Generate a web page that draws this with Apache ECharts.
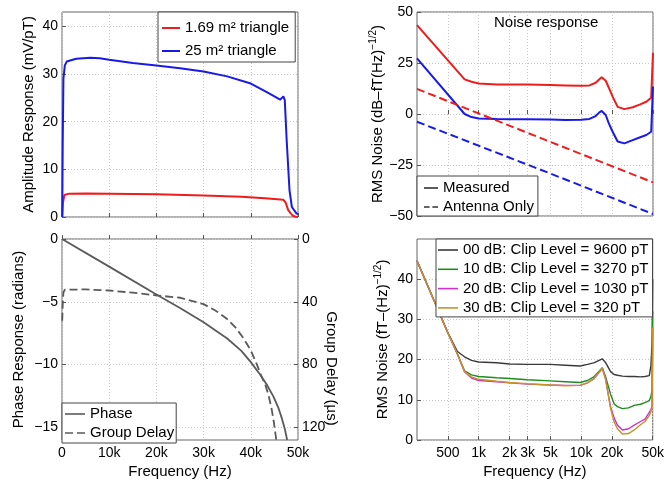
<!DOCTYPE html>
<html><head><meta charset="utf-8">
<script src="https://cdn.jsdelivr.net/npm/echarts@6/dist/echarts.min.js"></script>
<style>html,body{margin:0;padding:0;background:#fff}#c{width:667px;height:480px}</style>
</head><body><div id="c"></div>
<script>
// ---------- data ----------
// Top-left: amplitude response (mV/pT) vs frequency (Hz)
const ampRedFreq = [50, 200, 500, 1500, 5000, 10000, 20000, 30000, 38000, 43000, 46900, 47400, 47900, 48500, 49000, 49600, 50000];
const ampRed     = [0, 3.0, 4.6, 4.9, 4.95, 4.9, 4.75, 4.5, 4.25, 3.95, 3.6, 3.0, 1.5, 0.7, 0.2, 0.05, 0];
const ampBlueFreq = [50, 150, 300, 600, 1000, 3000, 6000, 8000, 10000, 15000, 20000, 25000, 30000, 35000, 40000, 43400, 45000, 46200, 46900, 47200, 47600, 48200, 48700, 49700, 50000];
const ampBlue     = [0, 15, 29, 31.8, 32.6, 33.2, 33.4, 33.3, 33.0, 32.3, 31.8, 31.2, 30.5, 29.5, 28.0, 26.2, 25.3, 24.6, 25.3, 24.5, 16.1, 5.6, 2.1, 0.7, 0.6];
const ampNames = ['1.69 m\u00B2 triangle', '25 m\u00B2 triangle'];

// Top-right: noise response (dB-fT/sqrt(Hz))
const trFreq  = [250, 728, 850, 1000, 1500, 2000, 3000, 5000, 7000, 10000, 12000, 13800, 15000, 15800, 16500, 17300, 18500, 20200, 22600, 26300, 31700, 37000, 43000, 48000, 49700, 50000];
const trRed   = [43.6, 17.0, 15.8, 15.0, 14.5, 14.5, 14.4, 14.2, 14.0, 13.8, 14.0, 15.3, 17.0, 18.0, 17.6, 16.3, 13.0, 8.5, 3.5, 2.4, 3.3, 4.6, 6.0, 8.0, 8.5, 30.0];
const trBlue  = [27.3, 0.0, -1.5, -2.2, -2.5, -2.6, -2.6, -2.7, -2.9, -2.8, -2.4, -1.0, 0.8, 1.5, 0.8, -0.5, -4.5, -8.7, -13.5, -14.4, -12.8, -11.5, -10.3, -8.7, -8.0, 13.4];
const antFreq = [250, 5000, 50000];
const antRed  = [12.3, -13.7, -33.5];
const antBlue = [-3.8, -29.2, -49.0];
const trLegend = ['Measured', 'Antenna Only'];

// Bottom-left: phase (rad) and group delay (us)
const phaseFreq = [0, 10000, 20000, 25000, 30000, 35000, 38000, 40000, 42000, 43400, 44800, 45800, 46600, 47200, 47700];
const phase     = [0, -2.2, -4.42, -5.5, -6.62, -7.92, -8.9, -9.8, -10.8, -11.6, -12.55, -13.4, -14.3, -15.1, -16.0];
const gdFreq = [50, 150, 300, 600, 1000, 5000, 10000, 15000, 20000, 25000, 30000, 32500, 35000, 36800, 38500, 40000, 41300, 42200, 43100, 43800, 44400, 44900, 45400];
const gd     = [52, 42, 34, 32.3, 31.9, 32.1, 32.8, 34.2, 35.9, 37.4, 41.5, 45.5, 51, 56.5, 63.4, 71, 80, 87, 93, 100, 108, 117, 128];

// Bottom-right: RMS noise (fT/sqrt(Hz)) for clip levels
const brFreq = [250, 500, 620, 728, 850, 1000, 1500, 2000, 3000, 5000, 7000, 9800, 11500, 13300, 16100, 17300, 19400, 21000, 22600, 25300, 29000, 33000, 38000, 42000, 46300, 48000, 49300, 50000];
const br00 = [44.6, 26.7, 22.0, 20.7, 19.8, 19.4, 19.2, 18.9, 18.8, 18.8, 18.6, 18.4, 18.8, 19.2, 20.2, 19.3, 17.0, 16.3, 16.1, 15.9, 15.8, 15.8, 15.7, 15.8, 16.0, 18.5, 24.0, 40.0];
const br10 = [44.6, 26.7, 21.4, 17.2, 16.2, 15.8, 15.5, 15.3, 15.0, 14.7, 14.5, 14.3, 14.8, 15.7, 18.0, 15.8, 11.4, 9.0, 8.3, 7.8, 8.0, 8.6, 8.9, 9.3, 9.8, 10.8, 12.5, 32.0];
const br20 = [44.6, 26.7, 21.4, 17.0, 15.4, 14.8, 14.5, 14.2, 13.9, 13.7, 13.6, 13.6, 14.2, 15.2, 17.8, 15.3, 8.2, 5.5, 3.7, 2.5, 2.8, 3.7, 4.6, 5.2, 6.9, 7.5, 8.5, 28.0];
const br30 = [44.6, 26.7, 21.4, 17.0, 15.7, 15.1, 14.6, 14.3, 14.0, 13.7, 13.5, 13.6, 14.2, 15.2, 17.9, 15.2, 7.8, 4.5, 2.8, 1.5, 1.6, 2.5, 3.8, 4.6, 6.1, 7.0, 8.2, 28.0];
const brNames = ['00 dB: Clip Level = 9600 pT', '10 dB: Clip Level = 3270 pT', '20 dB: Clip Level = 1030 pT', '30 dB: Clip Level = 320 pT'];

// tick values
const linTicks = [0, 10000, 20000, 30000, 40000, 50000];
const logTicks = [500, 1000, 2000, 3000, 5000, 10000, 20000, 50000];
const ampTicks = [0, 10, 20, 30, 40];
const trTicks = [-50, -25, 0, 25, 50];
const phaseTicks = [-15, -10, -5, 0];
const gdTicks = [0, 40, 80, 120];
const brTicks = [0, 10, 20, 30, 40];

// ---------- chart ----------
const FONT = '"Liberation Sans", Arial, Helvetica, sans-serif';
const pair = (xs, ys) => xs.map((x, i) => [x, ys[i]]);
const minus = v => String(v).replace('-', '\u2212');
const kfmt = v => v === 0 ? '0' : (v >= 1000 ? (Math.round(v / 100) / 10) + 'k' : String(Math.round(v)));

const gridLine = { show: true, lineStyle: { color: '#c8c8c8', type: [1, 2], width: 1 } };
const lbl = { color: '#000', fontSize: 14, fontFamily: FONT };
const nameStyle = { color: '#000', fontSize: 15, fontFamily: FONT };
const richName = {
  t: { fontSize: 15, fontFamily: FONT, color: '#000', verticalAlign: 'bottom' },
  s: { fontSize: 10, fontFamily: FONT, color: '#000', verticalAlign: 'bottom', padding: [0, 0, 7, 0] }
};

// legend icons: short solid / dashed strokes (w wide, h thick)
const solidIcon = (w, h) => 'path://M0,0h' + w + 'v' + h + 'h-' + w + 'z';
const dashIcon = (w, h) => { const d = w * 0.4; return 'path://M0,0h' + d + 'v' + h + 'h-' + d + 'zM' + (w - d) + ',0h' + d + 'v' + h + 'h-' + d + 'z'; };

function xAx(gi, type, min, max, ticks, showLabels, name) {
  const a = {
    type: type, gridIndex: gi, min: min, max: max,
    axisLine: { show: false },
    axisTick: { show: true, inside: true, length: 4, lineStyle: { color: '#555' }, customValues: ticks },
    axisLabel: Object.assign({ show: showLabels, margin: 6, customValues: ticks, formatter: kfmt }, lbl),
    splitLine: gridLine
  };
  if (type === 'log') a.logBase = 10;
  if (name) { a.name = name; a.nameLocation = 'middle'; a.nameGap = 24; a.nameTextStyle = nameStyle; }
  return a;
}
function yAx(gi, min, max, ticks, name, gap, extra) {
  return Object.assign({
    type: 'value', gridIndex: gi, min: min, max: max,
    axisLine: { show: false },
    axisTick: { show: true, inside: true, length: 4, lineStyle: { color: '#555' }, customValues: ticks },
    axisLabel: Object.assign({ margin: 4, customValues: ticks, formatter: minus }, lbl),
    splitLine: gridLine,
    name: name, nameLocation: 'middle', nameGap: gap, nameTextStyle: nameStyle
  }, extra || {});
}
function line(name, xi, yi, data, color, width, dashed) {
  return {
    type: 'line', name: name, xAxisIndex: xi, yAxisIndex: yi, data: data,
    symbol: 'none', showSymbol: false, silent: true, animation: false,
    lineStyle: { color: color, width: width, type: dashed ? [8, 4] : 'solid' },
    itemStyle: { color: color }
  };
}
function legend(left, top, padding, itemW, rowH, gap, items) {
  return {
    orient: 'vertical', left: left, top: top, padding: padding,
    itemWidth: itemW, itemHeight: rowH, itemGap: gap, selectedMode: false,
    backgroundColor: '#fff', borderColor: '#444', borderWidth: 1, borderRadius: 0,
    textStyle: { color: '#000', fontSize: 15, lineHeight: rowH, fontFamily: FONT },
    data: items
  };
}

const RED = '#ee1c1c', BLUE = '#1a1ae6', GRAY = '#5a5a5a';
const BRCOL = ['#3a3a3a', '#1e8c1e', '#cc33cc', '#c8922a'];

const option = {
  animation: false,
  backgroundColor: '#fff',
  title: { text: 'Noise response', left: 494, top: 15, padding: 0,
    textStyle: { fontSize: 15, fontWeight: 'normal', color: '#000', fontFamily: FONT } },
  grid: [
    { left: 62, top: 12, width: 236, height: 205, show: true, borderColor: '#666', borderWidth: 1 },
    { left: 417, top: 12, width: 236, height: 204, show: true, borderColor: '#666', borderWidth: 1 },
    { left: 62, top: 239, width: 236, height: 204, show: true, borderColor: '#666', borderWidth: 1 },
    { left: 417, top: 239, width: 236, height: 204, show: true, borderColor: '#666', borderWidth: 1 }
  ],
  xAxis: [
    xAx(0, 'value', 0, 50000, linTicks, false),
    xAx(1, 'log', 250, 50000, logTicks, false),
    xAx(2, 'value', 0, 50000, linTicks, true, 'Frequency (Hz)'),
    xAx(3, 'log', 250, 50000, logTicks, true, 'Frequency (Hz)')
  ],
  yAxis: [
    yAx(0, 0, 43, ampTicks, 'Amplitude Response (mV/pT)', 26),
    yAx(1, -50, 50, trTicks, '{t|RMS Noise (dB\u2013fT(Hz)}{s|\u22121/2}{t|)}', 30,
        { nameTextStyle: Object.assign({}, nameStyle, { rich: richName }) }),
    yAx(2, -16, 0, phaseTicks, 'Phase Response (radians)', 36),
    yAx(2, 0, 128, gdTicks, 'Group Delay (\u00B5s)', 26,
        { inverse: true, position: 'right', splitLine: { show: false }, nameRotate: -90, nameMoveOverlap: false,
          nameTextStyle: Object.assign({}, nameStyle, { padding: [0, 0, 0, 58] }) }),
    yAx(3, 0, 50, brTicks, '{t|RMS Noise (fT\u2013(Hz)}{s|\u22121/2}{t|)}', 27,
        { nameTextStyle: Object.assign({}, nameStyle, { rich: richName }) })
  ],
  legend: [
    legend(158, 12, [7, 6, 2, 4], 18, 18, 5, ampNames.map(n => ({ name: n, icon: solidIcon(18, 2) }))),
    legend(417, 176, [4, 4, 1, 7], 14, 16, 3, [
      { name: trLegend[0], icon: solidIcon(14, 1.6) }, { name: trLegend[1], icon: dashIcon(14, 1.6) }]),
    legend(62, 403, [3, 2, 2, 3], 20, 16, 3, [
      { name: 'Phase', icon: solidIcon(20, 1.6) }, { name: 'Group Delay', icon: dashIcon(20, 1.6) }]),
    legend(436, 239, [3, 4, 1, 2], 20, 16, 3.3, brNames.map(n => ({ name: n, icon: solidIcon(20, 1.6) })))
  ],
  series: [
    line(ampNames[0], 0, 0, pair(ampRedFreq, ampRed), RED, 2),
    line(ampNames[1], 0, 0, pair(ampBlueFreq, ampBlue), BLUE, 2),
    line('m1', 1, 1, pair(trFreq, trRed), RED, 2),
    line('m2', 1, 1, pair(trFreq, trBlue), BLUE, 2),
    line('a1', 1, 1, pair(antFreq, antRed), RED, 2, true),
    line('a2', 1, 1, pair(antFreq, antBlue), BLUE, 2, true),
    line(trLegend[0], 1, 1, [], '#333', 2),
    line(trLegend[1], 1, 1, [], '#333', 2, true),
    line('Phase', 2, 2, pair(phaseFreq, phase), GRAY, 1.8),
    line('Group Delay', 2, 3, pair(gdFreq, gd), GRAY, 1.8, true),
    line(brNames[0], 3, 4, pair(brFreq, br00), BRCOL[0], 1.4),
    line(brNames[1], 3, 4, pair(brFreq, br10), BRCOL[1], 1.4),
    line(brNames[2], 3, 4, pair(brFreq, br20), BRCOL[2], 1.4),
    line(brNames[3], 3, 4, pair(brFreq, br30), BRCOL[3], 1.4)
  ]
};
const chart = echarts.init(document.getElementById('c'), null, { renderer: 'canvas' });
chart.setOption(option);
</script></body></html>
